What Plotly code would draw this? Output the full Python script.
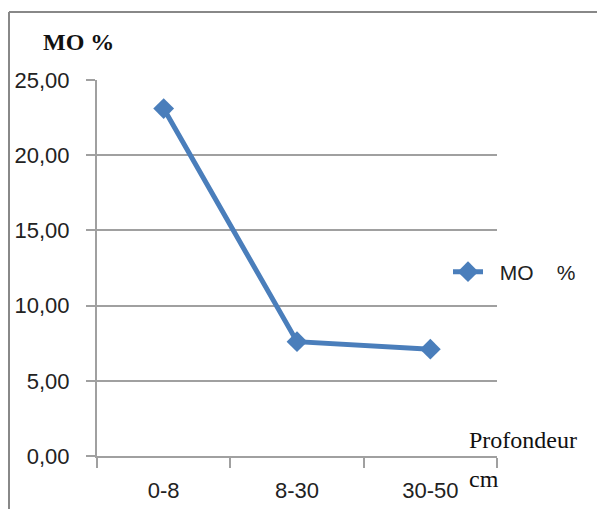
import plotly.graph_objects as go

depths = ["0-8", "8-30", "30-50"]
mo_percent = [23.1, 7.6, 7.1]
series_name = "\u00a0\u00a0MO\u00a0\u00a0\u00a0\u00a0%"

W, H = 597, 509
L, R, T, B = 97, 100, 80, 53
pw, ph = W - L - R, H - T - B

def px_x(x):
    return (x - L) / pw

def px_y(y):
    return (H - B - y) / ph

fig = go.Figure()
fig.add_trace(go.Scatter(
    x=depths, y=mo_percent, name=series_name, mode="lines+markers",
    line=dict(color="#4a7ebb", width=5),
    marker=dict(symbol="diamond", size=16, color="#4a7ebb"),
))

grey = "#a0a0a0"
sans = dict(family="Liberation Sans", size=22, color="#222")
serif = dict(family="Liberation Serif", size=24, color="#111")
fig.update_layout(
    width=W, height=H,
    margin=dict(l=L, r=R, t=T, b=B, autoexpand=False),
    plot_bgcolor="white", paper_bgcolor="white",
    separators=", ",
    showlegend=True,
    legend=dict(x=px_x(448), y=px_y(272), xanchor="left", yanchor="middle",
                bgcolor="rgba(0,0,0,0)", font=dict(family="Liberation Sans", size=21, color="#222"),
                itemwidth=30),
    xaxis=dict(type="category", tickson="boundaries", ticks="outside", ticklen=10,
               tickcolor=grey, tickwidth=2, showgrid=False, showline=True,
               linecolor=grey, linewidth=2, range=[-0.5, 2.5],
               tickfont=sans, ticklabelstandoff=14),
    yaxis=dict(range=[0, 25], dtick=5, tickformat=".2f", ticks="outside", ticklen=9,
               tickcolor=grey, tickwidth=2, showgrid=True, gridcolor=grey, gridwidth=2,
               showline=True, linecolor=grey, linewidth=2, zeroline=False,
               tickfont=sans, ticklabelstandoff=12),
    shapes=[
        dict(type="line", xref="paper", yref="paper", x0=px_x(9), x1=px_x(600),
             y0=px_y(12), y1=px_y(12), line=dict(color="#888", width=2)),
        dict(type="line", xref="paper", yref="paper", x0=px_x(9), x1=px_x(9),
             y0=px_y(12), y1=px_y(520), line=dict(color="#888", width=2)),
    ],
    annotations=[
        dict(text="<b>MO %</b>", xref="paper", yref="paper", x=px_x(78), y=px_y(42),
             xanchor="center", yanchor="middle", showarrow=False,
             font=dict(family="Liberation Serif", size=24, color="#111")),
        dict(text="Profondeur", xref="paper", yref="paper", x=px_x(523), y=px_y(440),
             xanchor="center", yanchor="middle", showarrow=False, font=serif),
        dict(text="cm", xref="paper", yref="paper", x=px_x(484), y=px_y(479),
             xanchor="center", yanchor="middle", showarrow=False, font=serif),
    ],
)

fig.write_html("out.html")
